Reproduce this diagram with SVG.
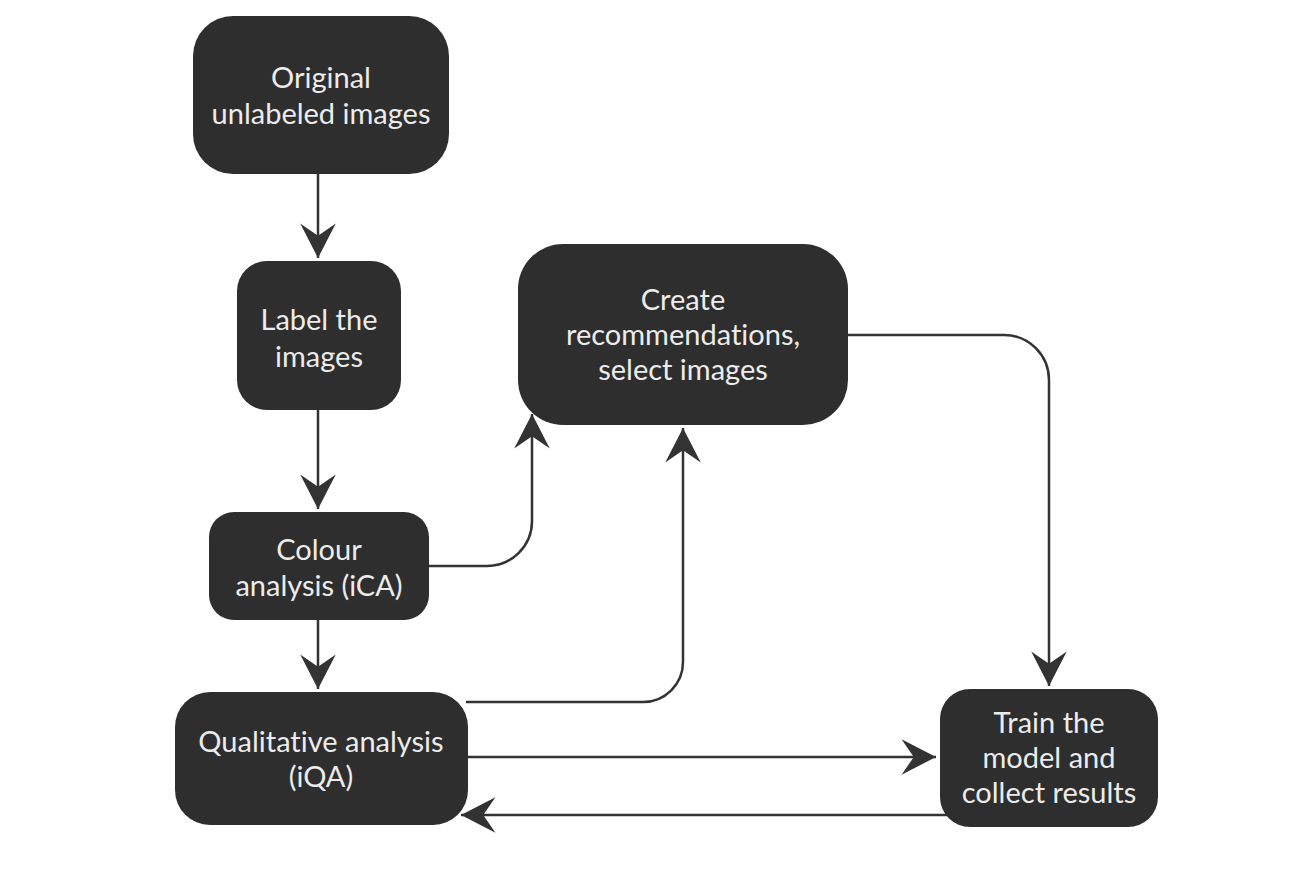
<svg xmlns="http://www.w3.org/2000/svg" width="1300" height="893" viewBox="0 0 1300 893">
<style>
.node rect{fill:#2e2e2e;}
.node text{font-family:Lato,"Noto Sans",sans-serif;font-size:29px;fill:#ececec;text-anchor:middle;font-variant-ligatures:none;}
.edges path{fill:none;stroke:#333;stroke-width:2.5;}
</style>
<defs>
<marker id="arr" markerUnits="userSpaceOnUse" markerWidth="40" markerHeight="40" viewBox="-32 -18 34 36" refX="0" refY="0" orient="auto">
<path d="M0,0 L-31,-16 L-20,0 L-31,16 Z" fill="#333"/>
</marker>
</defs>
<rect width="1300" height="893" fill="#fff"/>
<g class="edges">
<path d="M318,174 V258" marker-end="url(#arr)"/>
<path d="M318,410 V509" marker-end="url(#arr)"/>
<path d="M318,620 V689" marker-end="url(#arr)"/>
<path d="M429,566 H487 A45,45 0 0 0 532,521 V414" marker-end="url(#arr)"/>
<path d="M466,702 H643 A40,40 0 0 0 683,662 V428" marker-end="url(#arr)"/>
<path d="M848,335 H1004 A45,45 0 0 1 1049,380 V686" marker-end="url(#arr)"/>
<path d="M468,757 H936" marker-end="url(#arr)"/>
<path d="M950,815 H461" marker-end="url(#arr)"/>
</g>
<g id="n1" class="node"><rect x="193" y="16" width="256" height="158" rx="40"/><text x="321" y="88">Original</text><text x="321" y="124">unlabeled images</text></g>
<g id="n2" class="node"><rect x="237" y="261" width="164" height="149" rx="30"/><text x="319" y="330">Label the</text><text x="319" y="367">images</text></g>
<g id="n3" class="node"><rect x="518" y="244" width="330" height="181" rx="45"/><text x="683" y="310">Create</text><text x="683" y="345">recommendations,</text><text x="683" y="380">select images</text></g>
<g id="n4" class="node"><rect x="209" y="512" width="220" height="108" rx="25"/><text x="319" y="560">Colour</text><text x="319" y="596">analysis (iCA)</text></g>
<g id="n5" class="node"><rect x="175" y="692" width="293" height="133" rx="35"/><text x="321" y="752">Qualitative analysis</text><text x="321" y="787">(iQA)</text></g>
<g id="n6" class="node"><rect x="940" y="689" width="218" height="138" rx="30"/><text x="1049" y="733">Train the</text><text x="1049" y="768">model and</text><text x="1049" y="803">collect results</text></g>
</svg>
